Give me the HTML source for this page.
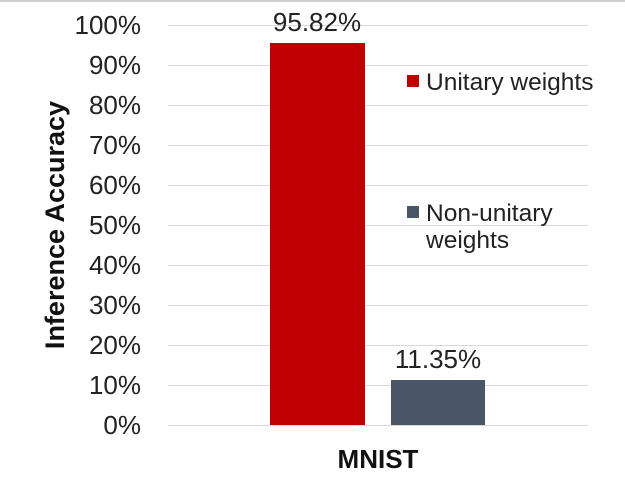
<!DOCTYPE html>
<html><head><style>
body{margin:0;background:#fff;}
svg{display:block;font-family:"Liberation Sans",Arial,sans-serif;}
</style></head><body>
<svg width="625" height="491" viewBox="0 0 625 491">
<rect x="0" y="0" width="625" height="2" fill="#cfcfcf"/>
<g stroke="#d9d9d9" stroke-width="1">
<line x1="168" x2="588" y1="25.5" y2="25.5"/>
<line x1="168" x2="588" y1="65.5" y2="65.5"/>
<line x1="168" x2="588" y1="105.5" y2="105.5"/>
<line x1="168" x2="588" y1="145.5" y2="145.5"/>
<line x1="168" x2="588" y1="185.5" y2="185.5"/>
<line x1="168" x2="588" y1="225.5" y2="225.5"/>
<line x1="168" x2="588" y1="265.5" y2="265.5"/>
<line x1="168" x2="588" y1="305.5" y2="305.5"/>
<line x1="168" x2="588" y1="345.5" y2="345.5"/>
<line x1="168" x2="588" y1="385.5" y2="385.5"/>
<line x1="168" x2="588" y1="425.5" y2="425.5"/>
</g>
<rect x="270" y="43" width="95" height="382" fill="#c00000"/>
<rect x="391" y="380" width="94" height="45" fill="#4a5666"/>
<g font-size="26" fill="#222" text-anchor="end">
<text x="141" y="34">100%</text>
<text x="141" y="74">90%</text>
<text x="141" y="114">80%</text>
<text x="141" y="154">70%</text>
<text x="141" y="194">60%</text>
<text x="141" y="234">50%</text>
<text x="141" y="274">40%</text>
<text x="141" y="314">30%</text>
<text x="141" y="354">20%</text>
<text x="141" y="394">10%</text>
<text x="141" y="434">0%</text>
</g>
<g font-size="26" fill="#222" text-anchor="middle">
<text x="317" y="31">95.82%</text>
<text x="438" y="368">11.35%</text>
</g>
<text x="378" y="468" font-size="26" font-weight="bold" text-anchor="middle" fill="#111">MNIST</text>
<text transform="translate(64,225) rotate(-90)" font-size="27" font-weight="bold" text-anchor="middle" fill="#111">Inference Accuracy</text>
<rect x="407" y="75" width="12" height="12" fill="#c00000"/>
<text x="426" y="90" font-size="24.5" fill="#222">Unitary weights</text>
<rect x="407" y="206" width="12" height="12" fill="#4a5666"/>
<text x="426" y="221" font-size="24.5" fill="#222">Non-unitary</text>
<text x="426" y="248" font-size="24.5" fill="#222">weights</text>
</svg>
</body></html>
